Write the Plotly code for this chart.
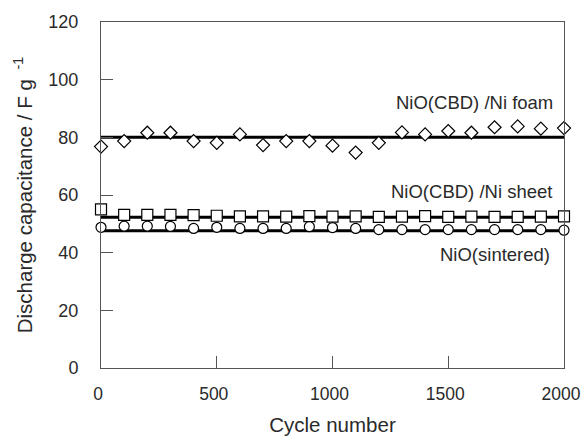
import plotly.graph_objects as go

cycles = [0, 100, 200, 300, 400, 500, 600, 700, 800, 900, 1000,
          1100, 1200, 1300, 1400, 1500, 1600, 1700, 1800, 1900, 2000]
foam = [76.8, 78.7, 81.6, 81.6, 78.7, 78.1, 81.0, 77.3, 78.7, 78.7, 77.1,
        74.7, 78.1, 81.7, 81.0, 82.2, 81.6, 83.5, 83.8, 83.0, 83.2]
sheet = [55.0, 53.1, 53.1, 53.1, 53.0, 52.8, 52.6, 52.6, 52.5, 52.7, 52.5,
         52.6, 52.4, 52.5, 52.7, 52.4, 52.5, 52.4, 52.4, 52.5, 52.6]
sintered = [48.8, 49.2, 49.2, 49.1, 48.4, 48.8, 48.4, 48.4, 48.4, 49.0, 48.7,
            48.4, 48.0, 48.0, 48.0, 48.0, 48.0, 48.0, 48.0, 48.0, 47.8]
fit_x = [0, 2000]
foam_fit = [80.0, 80.0]
sheet_fit = [52.3, 52.3]
sintered_fit = [47.6, 47.6]
labels = ["NiO(CBD) /Ni foam", "NiO(CBD) /Ni sheet", "NiO(sintered)"]
label_x = [1960, 1955, 1950]
label_y = [92.0, 61.2, 39.2]
x_ticks = [0, 500, 1000, 1500, 2000]
y_ticks = [0, 20, 40, 60, 80, 100, 120]

FONT = "Liberation Sans, Arial, sans-serif"
TXT = "#2a2a2a"
AX = "#555555"

fig = go.Figure()
for fy in [foam_fit, sheet_fit, sintered_fit]:
    fig.add_trace(go.Scatter(x=fit_x, y=fy, mode="lines", cliponaxis=False,
                             line=dict(color="black", width=3), showlegend=False))

fig.add_trace(go.Scatter(x=cycles, y=foam, mode="markers", showlegend=False, cliponaxis=False,
                         marker=dict(symbol="diamond", size=10, color="white",
                                     line=dict(color="black", width=1.2))))
fig.add_trace(go.Scatter(x=cycles, y=sheet, mode="markers", showlegend=False, cliponaxis=False,
                         marker=dict(symbol="square", size=11, color="white",
                                     line=dict(color="black", width=1.2))))
fig.add_trace(go.Scatter(x=cycles, y=sintered, mode="markers", showlegend=False, cliponaxis=False,
                         marker=dict(symbol="circle", size=10, color="white",
                                     line=dict(color="black", width=1.2))))

for t, lx, ly in zip(labels, label_x, label_y):
    fig.add_annotation(x=lx, y=ly, xref="x", yref="y", text=t, showarrow=False,
                       xanchor="right", yanchor="middle",
                       font=dict(family=FONT, size=18.5, color=TXT))

fig.update_layout(
    width=581, height=437,
    margin=dict(l=101, r=17, t=22, b=69),
    paper_bgcolor="white", plot_bgcolor="white",
    font=dict(family=FONT, size=17, color=TXT),
    xaxis=dict(range=[0, 2000], tickvals=x_ticks, ticks="inside", ticklen=12,
               tickcolor=AX, tickwidth=1, showline=True, linecolor=AX, linewidth=1,
               mirror=True, showgrid=False, zeroline=False, automargin=False,
               ticklabeloverflow="allow", ticklabelstandoff=10, ticklabelshift=-3,
               tickfont=dict(size=17.5, color=TXT),
               title=dict(text="Cycle number", font=dict(size=20.5, color=TXT), standoff=14)),
    yaxis=dict(range=[0, 120], tickvals=y_ticks, ticks="inside", ticklen=12,
               tickcolor=AX, tickwidth=1, showline=True, linecolor=AX, linewidth=1,
               mirror=True, showgrid=False, zeroline=False, automargin=False,
               ticklabeloverflow="allow", ticklabelstandoff=18,
               tickfont=dict(size=18, color=TXT),
               title=dict(text="Discharge capacitance / F g <sup> -1</sup>",
                          font=dict(size=20.5, color=TXT), standoff=10)),
)

fig.write_html("out.html", config={"displayModeBar": False},
               post_script="document.body.style.margin='0';")
